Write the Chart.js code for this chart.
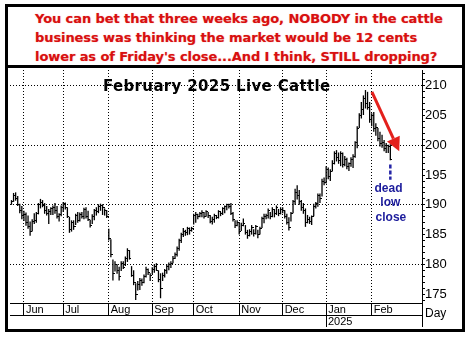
<!DOCTYPE html>
<html>
<head>
<meta charset="utf-8">
<script src="https://cdn.jsdelivr.net/npm/chart.js@4.4.1/dist/chart.umd.min.js"></script>
<style>
  html, body { margin: 0; padding: 0; background: #fff; width: 468px; height: 338px; overflow: hidden; }
  #frame { position: absolute; left: 5px; top: 4px; width: 454px; height: 322px; border: 3px solid #000; background: #fff; }
  #note { position: absolute; left: 27px; top: 2px; font: bold 13px "DejaVu Sans", Verdana, sans-serif; letter-spacing: -0.08px; line-height: 19px; color: #d81010; white-space: nowrap; text-shadow: 0 0 1px rgba(230, 40, 40, 0.5); }
  #rule { position: absolute; left: 0; top: 58px; width: 454px; height: 3px; background: #000; }
  #panel { position: absolute; left: 0; top: 61px; width: 454px; height: 261px; }
  #title { position: absolute; left: 95px; top: 71px; font: bold 15px "DejaVu Sans", Verdana, sans-serif; letter-spacing: 0.35px; line-height: 17px; color: #000; white-space: nowrap; }
</style>
</head>
<body>
<div id="frame">
  <div id="note">You can bet that three weeks ago, NOBODY in the cattle<br>business was thinking the market would be 12 cents<br>lower as of Friday's close...And I think, STILL dropping?</div>
  <div id="rule"></div>
  <div id="panel"><canvas id="chart" width="454" height="261"></canvas></div>
  <div id="title">February 2025 Live Cattle</div>
</div>
<script>
// Daily bars, February 2025 Live Cattle, late May 2024 to mid February 2025
const highs = [
  190.8,192.0,192.1,191.5,190.2,189.8,189.0,188.7,188.2,187.2,
  187.6,188.6,188.8,190.3,191.0,190.8,190.3,189.8,189.3,189.6,
  189.9,190.3,189.8,188.6,189.9,190.5,190.4,189.6,188.0,187.4,
  187.4,188.5,188.8,188.7,188.8,189.5,189.6,189.0,187.5,188.4,
  189.3,189.6,190.1,190.2,190.1,189.4,189.1,186.0,184.2,180.8,
  180.5,180.0,179.6,180.5,180.5,181.3,182.7,182.4,179.7,179.0,
  176.8,177.2,177.7,177.6,178.3,179.6,179.3,178.5,179.5,180.0,
  180.2,179.0,178.5,178.6,179.2,180.0,180.3,180.5,181.4,182.0,
  183.0,184.3,185.3,186.1,185.8,186.3,186.2,186.3,188.5,188.8,
  188.5,188.8,189.1,188.8,189.1,188.8,188.3,188.0,188.5,188.3,
  189.1,188.8,189.6,189.9,190.2,190.2,190.3,188.8,187.4,187.4,
  187.1,187.0,187.7,186.6,185.8,185.9,186.6,185.9,186.6,185.8,
  186.3,188.0,188.5,188.5,189.4,188.8,189.6,189.3,189.9,189.3,
  189.6,189.6,189.1,188.5,187.9,188.8,190.8,192.7,193.3,192.5,
  190.8,190.3,189.4,188.3,188.0,188.2,190.2,190.5,191.9,191.9,
  194.4,194.6,196.5,196.3,196.0,197.5,199.0,199.2,198.8,199.0,
  198.8,198.2,197.9,197.1,198.0,198.5,200.7,203.2,205.4,207.3,
  208.4,209.3,209.0,207.3,205.4,205.6,203.7,202.9,202.3,201.8,
  200.9,200.4,200.1,200.2
];
const lows = [
  190.0,190.5,190.7,189.8,188.6,187.6,187.3,186.5,186.0,184.8,
  185.5,186.8,187.0,188.4,189.4,189.6,188.5,188.2,186.8,188.3,
  188.3,188.5,187.7,187.2,188.1,188.8,189.2,187.8,185.3,185.5,
  185.8,186.6,187.0,187.2,187.7,187.6,187.7,187.3,186.2,186.8,
  187.4,188.2,188.6,189.0,188.3,188.2,187.8,184.0,181.2,177.3,
  178.8,178.4,177.3,178.9,179.2,179.7,180.4,180.8,177.9,176.5,
  174.0,175.6,175.7,176.4,176.8,177.8,178.2,177.2,178.3,178.6,
  178.9,177.0,174.3,177.2,177.8,178.4,179.0,179.4,180.2,180.9,
  181.3,182.3,183.6,184.6,184.8,184.9,185.0,185.5,186.7,187.0,
  187.6,187.9,187.9,187.7,188.0,187.8,186.9,186.7,187.0,187.6,
  187.7,188.1,188.3,188.6,189.1,189.4,188.3,187.2,186.1,186.4,
  185.0,185.6,186.4,185.0,184.3,184.7,185.0,184.7,185.0,184.4,
  185.0,186.1,186.9,187.6,187.7,187.6,187.9,187.9,188.3,188.1,
  188.4,188.6,187.7,186.7,185.7,187.2,188.6,190.0,190.9,190.0,
  189.0,188.5,186.3,186.9,186.8,186.6,188.1,189.4,189.7,190.3,
  191.4,193.3,193.6,194.3,194.0,195.6,196.8,197.3,196.9,196.5,
  196.3,196.5,196.0,195.7,196.4,196.2,197.9,199.5,202.9,204.5,
  205.1,206.2,206.0,203.8,203.2,202.3,201.6,200.7,199.8,199.6,
  199.0,198.7,198.7,197.5
];
const closes = [
  190.6,191.6,191.0,190.0,189.0,188.2,188.4,187.0,186.4,185.6,
  187.2,187.3,188.5,190.0,190.4,189.9,189.0,188.6,188.9,189.4,
  189.6,189.0,188.0,188.4,189.6,190.2,189.5,188.0,185.8,187.0,
  186.3,188.2,187.4,188.3,188.1,189.2,188.0,187.6,186.6,188.0,
  189.0,188.8,189.8,189.9,189.5,189.1,188.0,184.4,181.6,178.4,
  179.9,179.0,178.0,180.2,179.5,181.0,182.3,181.0,178.2,177.0,
  175.0,176.6,177.2,176.9,178.0,179.2,178.6,178.2,179.2,179.6,
  179.0,177.4,176.0,178.2,178.9,179.6,180.0,180.1,181.0,181.6,
  182.7,184.0,185.0,185.5,185.4,186.0,185.7,186.1,188.2,188.4,
  188.0,188.6,188.7,188.0,188.8,188.2,187.2,187.5,188.2,187.8,
  188.9,188.5,189.4,189.7,190.0,189.8,188.6,187.5,186.6,187.0,
  185.5,186.6,186.8,185.3,184.8,185.5,186.2,185.1,186.3,185.0,
  186.0,187.7,188.0,188.2,189.0,188.0,189.3,188.6,189.5,188.6,
  189.2,189.0,188.0,187.0,186.2,188.5,190.5,192.0,191.5,190.6,
  189.5,189.0,187.0,187.5,187.2,188.0,189.8,190.2,191.5,191.0,
  194.0,193.8,196.0,194.8,195.6,197.0,198.6,198.0,197.5,198.6,
  196.8,197.7,196.4,196.9,197.6,198.2,200.4,202.8,205.0,206.0,
  207.8,207.0,206.4,204.3,205.0,202.8,203.0,201.2,200.3,200.5,
  199.4,200.0,199.8,197.6
];

// Time axis: first trading day of each month (bar index) and its label
const monthLabels = ['Jun', 'Jul', 'Aug', 'Sep', 'Oct', 'Nov', 'Dec', 'Jan', 'Feb'];
const monthStarts = [6, 25, 47, 68, 88, 110, 131, 152, 174];
const yearLabel = '2025';
const yearStart = 152;
const periodLabel = 'Day';

// Price axis
const priceLabels = [175, 180, 185, 190, 195, 200, 205, 210];
const gridPrices = [180, 190, 200, 210];
const priceMin = 173.5, priceMax = 212.67;

// Callout: arrow from the top down to the latest bar, then the marker text
const arrowFrom = { x: 174.1, y: 209.0 };
const arrowTo = { x: 187.3, y: 199.0 };
const markerDash = { x: 183, top: 196.8, bottom: 194.2 };
const markerWords = [
  { text: 'dead', x: 182.1, y: 192.8 },
  { text: 'low', x: 183.0, y: 190.3 },
  { text: 'close', x: 183.3, y: 187.8 }
];

const days = highs.map((_, i) => i);

// Close tick: a short stub to the right of the high-low line
const closeTick = document.createElement('canvas');
closeTick.width = 4; closeTick.height = 1;
const tctx = closeTick.getContext('2d');
tctx.fillStyle = '#000';
tctx.fillRect(2, 0, 2, 1);

const labelFont = '"Liberation Sans", Arial, sans-serif';

// Scales keep exactly the room given to them, with no extra label padding
const noPadding = s => { s.paddingTop = 0; s.paddingBottom = 0; s.paddingLeft = 0; s.paddingRight = 0; };

const extras = {
  id: 'extras',
  afterDraw(chart) {
    const { ctx, chartArea: a, scales: { x, y } } = chart;
    ctx.save();
    ctx.strokeStyle = '#000';
    ctx.lineWidth = 1;
    const seg = (x1, y1, x2, y2) => { ctx.beginPath(); ctx.moveTo(x1, y1); ctx.lineTo(x2, y2); ctx.stroke(); };

    // lower rule of the month strip, year row, axis line carried down
    seg(a.left, Math.round(a.bottom) + 12.5, a.right, Math.round(a.bottom) + 12.5);
    seg(Math.round(a.right) + 0.5, a.bottom, Math.round(a.right) + 0.5, a.bottom + 24);
    const jx = Math.round(x.getPixelForValue(yearStart)) + 0.5;
    seg(jx, a.bottom, jx, a.bottom + 24);

    ctx.fillStyle = '#000';
    ctx.font = '11px ' + labelFont;
    ctx.textBaseline = 'middle';
    ctx.textAlign = 'left';
    ctx.fillText(yearLabel, jx + 1.5, a.bottom + 19);
    ctx.font = '12px ' + labelFont;
    ctx.fillText(periodLabel, a.right + 3, a.bottom + 11);

    // red arrow
    const x1 = x.getPixelForValue(arrowFrom.x), y1 = y.getPixelForValue(arrowFrom.y);
    const x2 = x.getPixelForValue(arrowTo.x), y2 = y.getPixelForValue(arrowTo.y);
    const ang = Math.atan2(y2 - y1, x2 - x1);
    const headLen = 14, headHalf = 7;
    const bx = x2 - headLen * Math.cos(ang), by = y2 - headLen * Math.sin(ang);
    ctx.strokeStyle = '#e3201c';
    ctx.fillStyle = '#e3201c';
    ctx.lineWidth = 3;
    seg(x1, y1, bx, by);
    ctx.beginPath();
    ctx.moveTo(x2, y2);
    ctx.lineTo(bx + headHalf * Math.sin(ang), by - headHalf * Math.cos(ang));
    ctx.lineTo(bx - headHalf * Math.sin(ang), by + headHalf * Math.cos(ang));
    ctx.closePath();
    ctx.fill();

    // blue dashed marker under the last bar
    const mx = x.getPixelForValue(markerDash.x);
    ctx.strokeStyle = '#2424a6';
    ctx.lineWidth = 2.5;
    ctx.setLineDash([4, 2]);
    seg(mx, y.getPixelForValue(markerDash.top), mx, y.getPixelForValue(markerDash.bottom));
    ctx.setLineDash([]);

    ctx.fillStyle = '#1c1c9c';
    ctx.font = 'bold 12px ' + labelFont;
    ctx.textAlign = 'center';
    markerWords.forEach(w => ctx.fillText(w.text, x.getPixelForValue(w.x), y.getPixelForValue(w.y)));
    ctx.restore();
  }
};

new Chart(document.getElementById('chart'), {
  type: 'bar',
  data: {
    datasets: [
      {
        type: 'bar',
        data: days.map(i => ({ x: i, y: [lows[i], highs[i]] })),
        backgroundColor: '#000',
        borderWidth: 0,
        barThickness: 1.3,
        inflateAmount: 0,
        grouped: false
      },
      {
        type: 'line',
        data: days.map(i => ({ x: i, y: closes[i] })),
        showLine: false,
        pointStyle: closeTick,
        pointRadius: 1,
        pointHoverRadius: 1
      }
    ]
  },
  options: {
    responsive: false,
    animation: false,
    events: [],
    layout: { padding: 0 },
    plugins: { legend: { display: false }, tooltip: { enabled: false }, title: { display: false } },
    scales: {
      x: {
        type: 'linear',
        position: 'bottom',
        min: -0.72,
        max: 198.3,
        offset: false,
        afterBuildTicks: s => { s.ticks = monthStarts.map(v => ({ value: v })); },
        afterFit: s => { s.height = 26; noPadding(s); },
        grid: { offset: false, color: '#000', lineWidth: 1, drawTicks: true, tickLength: 12, tickColor: '#000', tickWidth: 1, tickBorderDash: [] },
        border: { display: true, color: '#000', width: 1, dash: [1, 2] },
        ticks: {
          autoSkip: false, maxRotation: 0, minRotation: 0, align: 'start', padding: -12, labelOffset: 2,
          color: '#000', font: { family: labelFont, size: 11 },
          callback: (v, i) => monthLabels[i]
        }
      },
      y: {
        position: 'right',
        min: priceMin,
        max: priceMax,
        afterBuildTicks: s => {
          const t = [];
          for (let v = Math.ceil(priceMin); v <= Math.floor(priceMax); v++) t.push({ value: v });
          s.ticks = t;
        },
        afterFit: s => { s.width = 40; noPadding(s); },
        grid: {
          color: c => (c.tick && gridPrices.includes(c.tick.value)) ? '#000' : 'rgba(0,0,0,0)',
          drawTicks: true, tickLength: 3, tickColor: '#000', tickWidth: 1, tickBorderDash: []
        },
        border: { display: true, color: '#000', width: 1, dash: [1, 2] },
        ticks: {
          autoSkip: false, padding: 0, color: '#000', font: { family: labelFont, size: 13 },
          callback: v => priceLabels.includes(v) ? String(v) : ''
        }
      }
    }
  },
  plugins: [extras]
});
</script>
</body>
</html>
